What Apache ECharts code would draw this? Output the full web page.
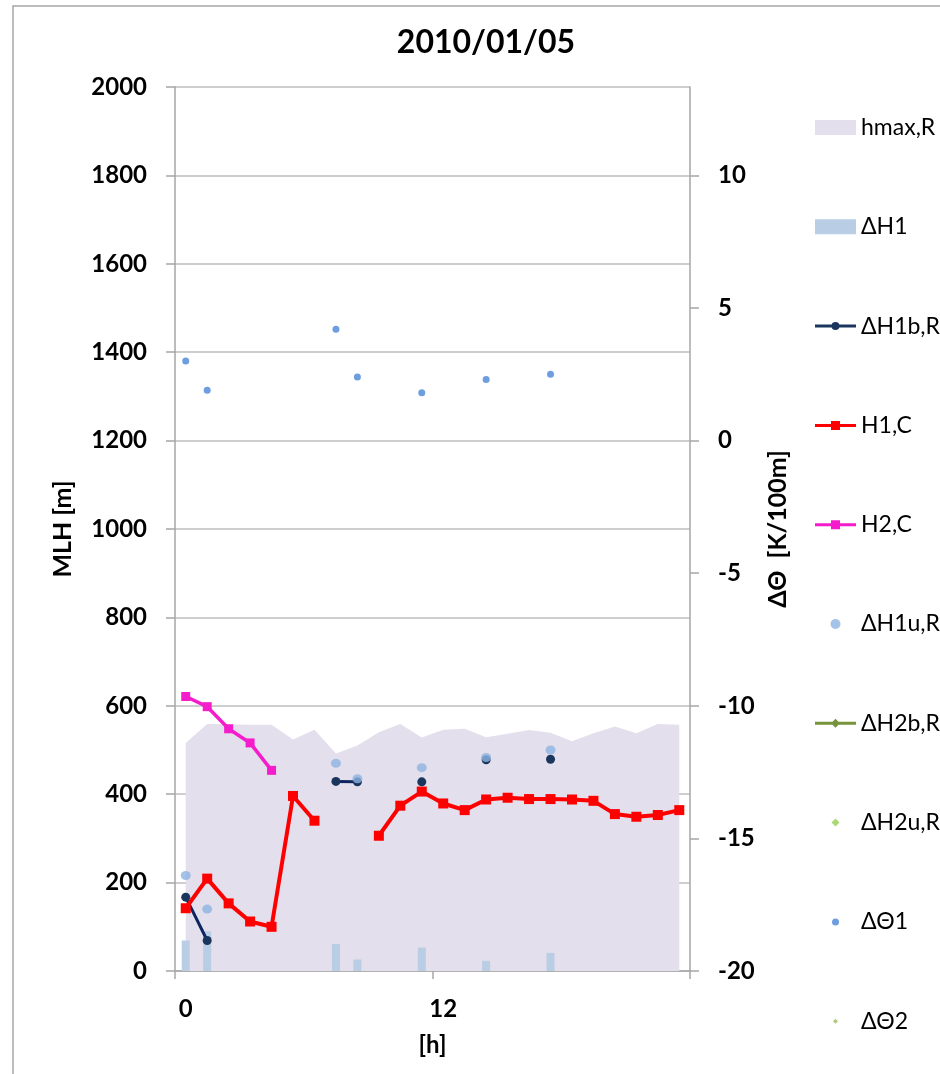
<!DOCTYPE html>
<html>
<head>
<meta charset="utf-8">
<script src="https://cdn.jsdelivr.net/npm/echarts@6/dist/echarts.min.js"></script>
<style>
  html, body { margin: 0; padding: 0; background: #fff; }
  #chart { width: 940px; height: 1074px; }
</style>
</head>
<body>
<div id="chart"></div>
<script>
// Hourly boundary-layer diagnostics for one day
const hours = ['0','1','2','3','4','5','6','7','8','9','10','11','12','13','14','15','16','17','18','19','20','21','22','23'];

// left axis: heights in m
const hmaxR = [516, 559, 558, 557, 557, 524, 546, 492, 510, 540, 559, 528, 546, 548, 529, 537, 545, 539, 520, 538, 553, 538, 559, 557];
const dH1 = [69, 90, null, null, null, null, null, 61, 26, null, null, 53, null, null, 23, null, null, 41, null, null, null, null, null, null];
const dH1bR = [167, 69, null, null, null, null, null, 429, 428, null, null, 428, null, null, 478, null, null, 479, null, null, null, null, null, null];
const H1C = [142, 209, 153, 112, 100, 396, 340, null, null, 306, 374, 406, 379, 364, 388, 392, 389, 389, 388, 385, 355, 349, 353, 364];
const H2C = [621, 598, 548, 516, 454, null, null, null, null, null, null, null, null, null, null, null, null, null, null, null, null, null, null, null];
const dH1uR = [216, 140, null, null, null, null, null, 470, 435, null, null, 460, null, null, 483, null, null, 500, null, null, null, null, null, null];
const dH2bR = [];
const dH2uR = [];

// right axis: potential temperature gradient in K/100m
const dTheta1 = [3.0, 1.9, null, null, null, null, null, 4.2, 2.4, null, null, 1.8, null, null, 2.3, null, null, 2.5, null, null, null, null, null, null];
const dTheta2 = [];

const leftTicks = { min: 0, max: 2000, step: 200 };
const rightTickValues = [-20, -15, -10, -5, 0, 5, 10];

const FONT = 'Lato, "Noto Sans", sans-serif';
const GRID_GREY = '#BEBEBE';
const AXIS_GREY = '#A6A6A6';

// legend glyphs, each drawn in a 41x15 box (corner points pin the box size)
const BOX = 'M0,0L0,0 M41,15L41,15 ';
const icons = {
  lineCircle: 'path://' + BOX + 'M0,6L41,6L41,9L0,9Z M20.5,3.5A4,4 0 1 1 20.5,11.5A4,4 0 1 1 20.5,3.5Z',
  lineSquare: 'path://' + BOX + 'M0,6L41,6L41,9L0,9Z M16,3L25,3L25,12L16,12Z',
  lineDiamond: 'path://' + BOX + 'M0,6L41,6L41,9L0,9Z M20.5,3L25,7.5L20.5,12L16,7.5Z',
  dotBig: 'path://' + BOX + 'M20.5,2.5A5,5 0 1 1 20.5,12.5A5,5 0 1 1 20.5,2.5Z',
  dotSmall: 'path://' + BOX + 'M20.5,4A3.5,3.5 0 1 1 20.5,11A3.5,3.5 0 1 1 20.5,4Z',
  diamond: 'path://' + BOX + 'M20.5,3.5L24.5,7.5L20.5,11.5L16.5,7.5Z',
  diamondSmall: 'path://' + BOX + 'M20.5,5L23,7.5L20.5,10L18,7.5Z'
};

const chart = echarts.init(document.getElementById('chart'), null, { renderer: 'canvas' });

chart.setOption({
  animation: false,
  backgroundColor: '#ffffff',
  textStyle: { fontFamily: FONT },
  title: {
    text: '2010/01/05',
    left: 486,
    textAlign: 'center',
    top: 27,
    padding: 0,
    textStyle: { fontFamily: FONT, fontSize: 32, fontWeight: 'bold', color: '#000' }
  },
  graphic: [{
    type: 'rect',
    silent: true,
    shape: { x: 13, y: 6, width: 1200, height: 1400 },
    style: { fill: 'none', stroke: '#A6A6A6', lineWidth: 1.5 },
    z: -10
  }],
  grid: { left: 175, right: 250, top: 87, bottom: 103, containLabel: false },
  legend: {
    orient: 'vertical',
    left: 815,
    top: 116,
    padding: 0,
    itemWidth: 41,
    itemHeight: 15,
    itemGap: 76.3,
    selectedMode: false,
    itemStyle: { borderWidth: 0 },
    textStyle: { fontFamily: FONT, fontSize: 23, color: '#000' },
    data: [
      { name: 'hmax,R', icon: 'rect' },
      { name: 'ΔH1', icon: 'rect' },
      { name: 'ΔH1b,R', icon: icons.lineCircle },
      { name: 'H1,C', icon: icons.lineSquare },
      { name: 'H2,C', icon: icons.lineSquare },
      { name: 'ΔH1u,R', icon: icons.dotBig },
      { name: 'ΔH2b,R', icon: icons.lineDiamond },
      { name: 'ΔH2u,R', icon: icons.diamond },
      { name: 'ΔΘ1', icon: icons.dotSmall },
      { name: 'ΔΘ2', icon: icons.diamondSmall }
    ]
  },
  xAxis: {
    type: 'category',
    data: hours,
    boundaryGap: true,
    name: '[h]',
    nameLocation: 'middle',
    nameGap: 62,
    nameTextStyle: { fontFamily: FONT, fontSize: 24, fontWeight: 'bold', color: '#000' },
    axisLine: { lineStyle: { color: AXIS_GREY, width: 1.5 } },
    axisTick: { show: true, interval: 11, length: 8, lineStyle: { color: AXIS_GREY, width: 1.5 } },
    axisLabel: { interval: 11, margin: 26, fontFamily: FONT, fontSize: 24, fontWeight: 'bold', color: '#000' },
    splitLine: { show: false }
  },
  yAxis: [
    {
      type: 'value',
      position: 'left',
      min: leftTicks.min,
      max: leftTicks.max,
      interval: leftTicks.step,
      name: 'MLH [m]',
      nameLocation: 'middle',
      nameRotate: 90,
      nameGap: 100,
      nameTextStyle: { fontFamily: FONT, fontSize: 25, fontWeight: 'bold', color: '#000' },
      axisLine: { show: true, lineStyle: { color: AXIS_GREY, width: 1.5 } },
      axisTick: { show: true, length: 9, lineStyle: { color: AXIS_GREY, width: 1.5 } },
      axisLabel: {
        margin: 28, fontFamily: FONT, fontSize: 24, fontWeight: 'bold', color: '#000',
        formatter: (v) => String(v)
      },
      splitLine: { show: true, lineStyle: { color: GRID_GREY, width: 1.5 } }
    },
    {
      type: 'value',
      position: 'right',
      min: -20,
      max: 40 / 3,
      interval: 5,
      name: 'ΔΘ  [K/100m]',
      nameLocation: 'middle',
      nameRotate: 90,
      nameGap: 74,
      nameTextStyle: { fontFamily: FONT, fontSize: 25, fontWeight: 'bold', color: '#000' },
      axisLine: { show: true, lineStyle: { color: AXIS_GREY, width: 1.5 } },
      axisTick: { show: true, length: 9, customValues: rightTickValues, lineStyle: { color: AXIS_GREY, width: 1.5 } },
      axisLabel: {
        margin: 28, customValues: rightTickValues, fontFamily: FONT, fontSize: 24, fontWeight: 'bold', color: '#000',
        formatter: (v) => String(v)
      },
      splitLine: { show: false }
    }
  ],
  series: [
    {
      name: 'hmax,R', type: 'line', yAxisIndex: 0, data: hmaxR,
      symbol: 'none', color: '#E4DFEC',
      lineStyle: { width: 0, color: '#E4DFEC' },
      areaStyle: { color: '#E4DFEC', opacity: 1 },
      z: 1
    },
    {
      name: 'ΔH1', type: 'bar', yAxisIndex: 0, data: dH1,
      barWidth: 8, color: '#B9CDE5', itemStyle: { color: '#B9CDE5' }, z: 2
    },
    {
      name: 'ΔH1b,R', type: 'line', yAxisIndex: 0, data: dH1bR,
      color: '#0D2660', symbol: 'circle', symbolSize: 9, connectNulls: false,
      lineStyle: { color: '#0D2660', width: 3 },
      itemStyle: { color: '#1B365D', borderWidth: 0 }, z: 3
    },
    {
      name: 'H1,C', type: 'line', yAxisIndex: 0, data: H1C,
      color: '#FF0000', symbol: 'rect', symbolSize: 10, connectNulls: false,
      lineStyle: { color: '#FF0000', width: 4 },
      itemStyle: { color: '#FF0000', borderWidth: 0 }, z: 4
    },
    {
      name: 'H2,C', type: 'line', yAxisIndex: 0, data: H2C,
      color: '#F51DCB', symbol: 'rect', symbolSize: 9, connectNulls: false,
      lineStyle: { color: '#F51DCB', width: 3.5 },
      itemStyle: { color: '#F51DCB', borderWidth: 0 }, z: 4
    },
    {
      name: 'ΔH1u,R', type: 'scatter', yAxisIndex: 0, data: dH1uR,
      color: '#8DB4E2', symbol: 'circle', symbolSize: [10, 9],
      itemStyle: { color: '#8DB4E2' }, z: 5
    },
    {
      name: 'ΔH2b,R', type: 'line', yAxisIndex: 0, data: dH2bR,
      color: '#77933C', symbol: 'diamond', symbolSize: 8,
      lineStyle: { color: '#77933C', width: 3 },
      itemStyle: { color: '#77933C', borderWidth: 0 }, z: 5
    },
    {
      name: 'ΔH2u,R', type: 'scatter', yAxisIndex: 0, data: dH2uR,
      color: '#92D050', symbol: 'diamond', symbolSize: 8,
      itemStyle: { color: '#92D050' }, z: 5
    },
    {
      name: 'ΔΘ1', type: 'scatter', yAxisIndex: 1, data: dTheta1,
      color: '#4A86D8', symbol: 'circle', symbolSize: 7,
      itemStyle: { color: '#4A86D8' }, z: 6
    },
    {
      name: 'ΔΘ2', type: 'scatter', yAxisIndex: 1, data: dTheta2,
      color: '#9BBB59', symbol: 'diamond', symbolSize: 5,
      itemStyle: { color: '#9BBB59' }, z: 6
    }
  ]
});
</script>
</body>
</html>
